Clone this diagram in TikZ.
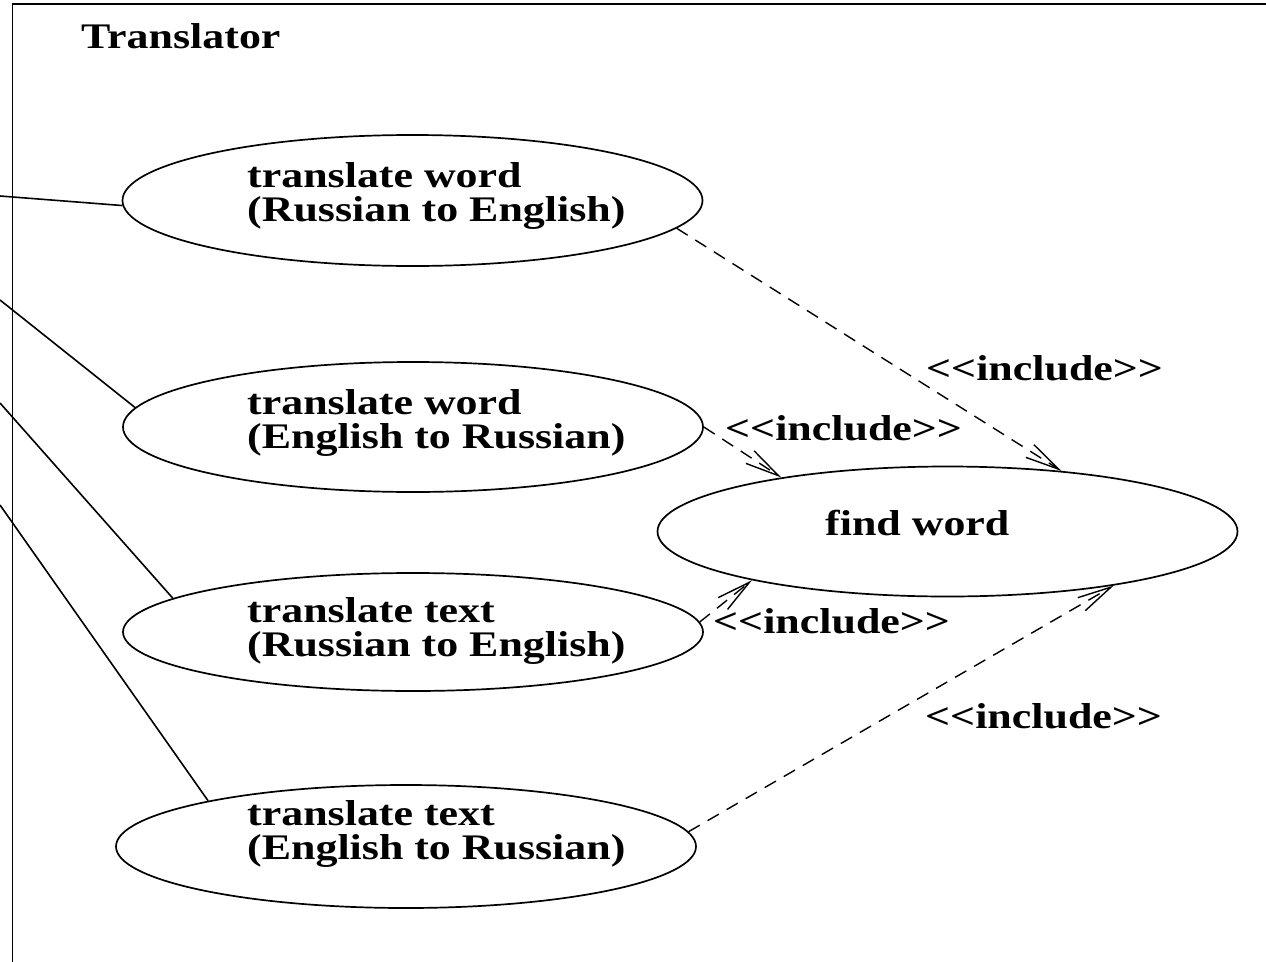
\documentclass[tikz,border=0pt]{standalone}
\usepackage{fontspec}
\setmainfont{Liberation Serif}[FakeStretch=1.22]
\usetikzlibrary{shapes.geometric,arrows.meta}

\begin{document}
\begin{tikzpicture}[x=1pt,y=-1pt,
  usecase/.style={draw,ellipse,line width=1.7pt,minimum width=580pt,minimum height=130pt,inner sep=0pt},
  lbl/.style={anchor=base west,inner sep=0pt,font=\fontsize{36}{34}\selectfont\bfseries,align=left},
  assoc/.style={line width=1.6pt},
  incl/.style={line width=1.4pt,dash pattern=on 13pt off 9pt,-{Straight Barb[length=34pt,width=15pt,line width=1.4pt]}}
]
\useasboundingbox (0,0) rectangle (1266,961);

% system boundary
\draw[line width=1.8pt] (1270,4) -- (12.5,4) -- (12.5,965);
\node[lbl] (sys) at (81,48) {Translator};

% use cases
\node[usecase,minimum height=131pt] (e1) at (412.5,200.5) {};
\node[usecase] (e2) at (413,427) {};
\node[usecase,minimum height=118pt] (e3) at (413,632) {};
\node[usecase,minimum height=123pt] (e4) at (406,846.5) {};
\node[usecase] (fw) at (947.5,531.5) {};

% multi-line labels: the base anchor sits on the last line
\node[lbl] (t1) at (247,221.7) {translate word\\(Russian to English)};
\node[lbl] (t2) at (247,448.7) {translate word\\(English to Russian)};
\node[lbl] (t3) at (247,656.7) {translate text\\(Russian to English)};
\node[lbl] (t4) at (247,859.7) {translate text\\(English to Russian)};
\node[lbl] (tf) at (825,535) {find word};

% actor associations (actor lies beyond the left edge)
\coordinate (a1) at (0,196);
\coordinate (a2) at (0,300);
\coordinate (a3) at (0,403);
\coordinate (a4) at (0,505);
\draw[assoc] (a1) -- (e1.181);
\draw[assoc] (a2) -- (e2.176.2);
\draw[assoc] (a3) -- (e3.172.65);
\draw[assoc] (a4) -- (e4.167.8);

% include relations
\draw[incl] (e1.-6.75) -- (fw.28.8);
\draw[incl] (e2.0.4) -- (fw.162.6);
\draw[incl] (e3.2) -- (fw.194.1);
\draw[incl] (e4.3.7) -- (fw.-18);

\node[lbl] (i1) at (926,380) {<{}<include>{}>};
\node[lbl] (i2) at (725,440) {<{}<include>{}>};
\node[lbl] (i3) at (713,633) {<{}<include>{}>};
\node[lbl] (i4) at (925,728) {<{}<include>{}>};
\end{tikzpicture}
\end{document}
